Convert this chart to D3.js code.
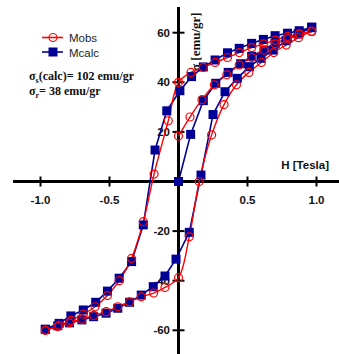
<!DOCTYPE html>
<html>
<head>
<meta charset="utf-8">
<script src="https://cdn.jsdelivr.net/npm/d3@7"></script>
<style>
  body { margin: 0; background: #fff; }
  svg { display: block; }
</style>
</head>
<body>
<svg id="chart" width="339" height="354"></svg>
<script>
// field values (Tesla)
const calcUpperH = [0.965, 0.875, 0.79, 0.70, 0.615, 0.53, 0.44, 0.355, 0.265, 0.18, 0.095, 0.01, -0.085, -0.17, -0.255, -0.34, -0.43, -0.515, -0.60, -0.69, -0.78, -0.865, -0.965];
const calcUpperM = [62.2, 60.8, 59.8, 58.8, 57.3, 55.7, 53.7, 51.9, 49, 46.2, 42.3, 36.6, 28.5, 12.7, -17.5, -32.3, -39, -44.2, -48.7, -51.8, -54.2, -57.2, -59.6];

const calcLowerH = [-0.965, -0.875, -0.79, -0.70, -0.615, -0.525, -0.44, -0.355, -0.27, -0.183, -0.098, -0.018, 0.078, 0.163, 0.25, 0.337, 0.426, 0.513, 0.598, 0.687, 0.779, 0.866, 0.965];
const calcLowerM = [-59.6, -58.2, -57, -55.8, -54.5, -53.1, -51.1, -48.7, -45.8, -42.4, -38.1, -31.3, -20.5, 2.6, 27, 36.2, 41.6, 46.3, 49.7, 53, 56.8, 59.5, 62.2];

const calcVirginH = [0, 0.088, 0.18, 0.27, 0.36, 0.45, 0.53, 0.62, 0.70, 0.79, 0.875, 0.965];
const calcVirginM = [0, 19, 32.6, 39.6, 44, 47.5, 50.5, 53, 55.5, 57.8, 60, 62];

const obsUpperH = [0.965, 0.875, 0.79, 0.70, 0.615, 0.53, 0.44, 0.355, 0.265, 0.18, 0.09, 0, -0.074, -0.177, -0.255, -0.34, -0.43, -0.515, -0.605, -0.69, -0.78, -0.865, -0.965];
const obsUpperM = [60.5, 59.5, 58.5, 57, 55.5, 54, 52, 50, 48, 46, 44, 40, 24.5, 3, -16.2, -31, -40, -46, -50.5, -53.5, -56, -58, -60];

const obsLowerH = [-0.965, -0.875, -0.79, -0.70, -0.615, -0.525, -0.44, -0.355, -0.27, -0.18, -0.098, 0, 0.078, 0.15, 0.24, 0.33, 0.42, 0.51, 0.60, 0.69, 0.78, 0.87, 0.965];
const obsLowerM = [-60, -58.5, -57, -55.5, -54, -52.5, -50.5, -48.5, -46.5, -45, -42.7, -38.8, -22.3, 0, 18.8, 31, 39, 44, 48, 52, 55, 58, 60.5];

const obsVirginH = [0, 0.083, 0.17, 0.26, 0.35, 0.44, 0.53, 0.62, 0.70, 0.79, 0.875, 0.965];
const obsVirginM = [18.3, 26, 33, 39, 43, 47, 50, 53, 55.5, 57.5, 59.5, 60.5];

const xTicks = [-1.0, -0.5, 0.5, 1.0];
const yTicks = [-60, -40, -20, 20, 40, 60];

const RED = '#ff0000';
const BLUE = '#000096';

const svg = d3.select('#chart');

const x = d3.scaleLinear().domain([-1, 1]).range([40.5, 316.5]);
const y = d3.scaleLinear().domain([0, 60]).range([181.5, 32.7]);

const zip = (hs, ms) => hs.map((h, i) => ({ h, m: ms[i] }));

// tick labels sit under the data
const labels = svg.append('g').style('font-family', '"Liberation Sans", Arial, sans-serif')
	.style('font-weight', 'bold').style('font-size', '11.5px').attr('fill', '#111');

labels.selectAll('.xl').data(xTicks).enter().append('text')
	.attr('x', d => x(d))
	.attr('y', 204)
	.attr('text-anchor', 'middle')
	.text(d => d.toFixed(1));

labels.selectAll('.yl').data(yTicks).enter().append('text')
	.attr('x', 170)
	.attr('y', d => y(d) + 4)
	.attr('text-anchor', 'end')
	.text(d => d);

labels.append('text')
	.attr('x', 329)
	.attr('y', 169)
	.attr('text-anchor', 'end')
	.text('H [Tesla]');

svg.append('text')
	.attr('transform', `translate(199.5,71) rotate(-90)`)
	.style('font-family', '"Liberation Serif", "Times New Roman", serif')
	.style('font-weight', 'bold')
	.style('font-size', '13px')
	.attr('fill', '#111')
	.text('σ [emu/gr]');

// axes through the origin
const axes = svg.append('g').attr('stroke', '#000');
axes.append('line').attr('x1', 13).attr('x2', 339).attr('y1', y(0)).attr('y2', y(0)).attr('stroke-width', 3);
axes.append('line').attr('x1', x(0)).attr('x2', x(0)).attr('y1', 7).attr('y2', 354).attr('stroke-width', 3);
axes.selectAll('.xt').data(xTicks).enter().append('line')
	.attr('x1', d => x(d)).attr('x2', d => x(d))
	.attr('y1', y(0) - 5).attr('y2', y(0) + 5)
	.attr('stroke-width', 2);
axes.selectAll('.yt').data(yTicks).enter().append('line')
	.attr('x1', x(0) - 6).attr('x2', x(0) + 6)
	.attr('y1', d => y(d)).attr('y2', d => y(d))
	.attr('stroke-width', 2);

// curves
const calcLine = d3.line().x(d => x(d.h)).y(d => y(d.m));
const obsLine = d3.line().x(d => x(d.h)).y(d => y(d.m)).curve(d3.curveCatmullRom.alpha(0.5));

const obsBranches = [zip(obsUpperH, obsUpperM), zip(obsLowerH, obsLowerM), zip(obsVirginH, obsVirginM)];
const calcBranches = [zip(calcUpperH, calcUpperM), zip(calcLowerH, calcLowerM), zip(calcVirginH, calcVirginM)];

const plot = svg.append('g');

calcBranches.forEach(b => {
	plot.append('path').attr('d', calcLine(b)).attr('fill', 'none')
		.attr('stroke', BLUE).attr('stroke-width', 1.6);
});
obsBranches.forEach(b => {
	plot.append('path').attr('d', obsLine(b)).attr('fill', 'none')
		.attr('stroke', RED).attr('stroke-width', 1.4);
});

const sq = 9;
calcBranches.forEach(b => {
	plot.append('g').selectAll('rect').data(b).enter().append('rect')
		.attr('x', d => x(d.h) - sq / 2)
		.attr('y', d => y(d.m) - sq / 2)
		.attr('width', sq).attr('height', sq)
		.attr('fill', BLUE);
});
obsBranches.forEach(b => {
	plot.append('g').selectAll('circle').data(b).enter().append('circle')
		.attr('cx', d => x(d.h))
		.attr('cy', d => y(d.m))
		.attr('r', 4)
		.attr('fill', 'none')
		.attr('stroke', RED).attr('stroke-width', 1.2);
});

// legend
const legend = svg.append('g');
const legendItems = [
	{ name: 'Mobs', color: RED, y: 37.5, shape: 'circle' },
	{ name: 'Mcalc', color: BLUE, y: 52, shape: 'square' }
];
legendItems.forEach(it => {
	legend.append('line').attr('x1', 42).attr('x2', 63).attr('y1', it.y).attr('y2', it.y)
		.attr('stroke', it.color).attr('stroke-width', 1.6);
	if (it.shape === 'circle') {
		legend.append('circle').attr('cx', 53).attr('cy', it.y).attr('r', 4)
			.attr('fill', 'none').attr('stroke', it.color).attr('stroke-width', 1.2);
	} else {
		legend.append('rect').attr('x', 53 - 4.5).attr('y', it.y - 4.5).attr('width', 9).attr('height', 9)
			.attr('fill', it.color);
	}
	legend.append('text').attr('x', 69).attr('y', it.y + 4.5)
		.style('font-family', '"Liberation Sans", Arial, sans-serif')
		.style('font-size', '11.5px')
		.attr('fill', '#222')
		.text(it.name);
});

// annotations
const note = svg.append('g')
	.style('font-family', '"Liberation Serif", "Times New Roman", serif')
	.style('font-weight', 'bold')
	.style('font-size', '12px')
	.attr('fill', '#111');
const n1 = note.append('text').attr('x', 29).attr('y', 80);
n1.append('tspan').text('σ');
n1.append('tspan').attr('dy', 3).style('font-size', '8px').text('s');
n1.append('tspan').attr('dy', -3).text('(calc)= 102 emu/gr');
const n2 = note.append('text').attr('x', 29).attr('y', 95);
n2.append('tspan').text('σ');
n2.append('tspan').attr('dy', 3).style('font-size', '8px').text('r');
n2.append('tspan').attr('dy', -3).text('= 38 emu/gr');
</script>
</body>
</html>
